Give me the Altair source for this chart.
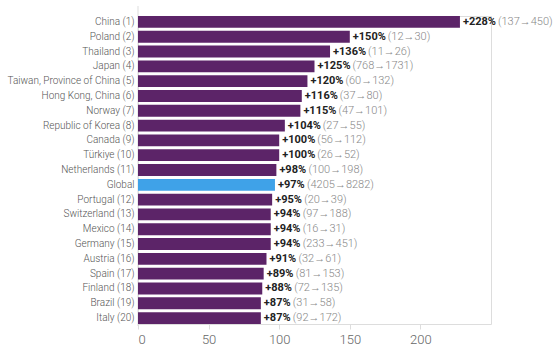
import altair as alt
import pandas as pd

names = ["China (1)", "Poland (2)", "Thailand (3)", "Japan (4)", "Taiwan, Province of China (5)",
         "Hong Kong, China (6)", "Norway (7)", "Republic of Korea (8)", "Canada (9)", "Türkiye (10)",
         "Netherlands (11)", "Global", "Portugal (12)", "Switzerland (13)", "Mexico (14)",
         "Germany (15)", "Austria (16)", "Spain (17)", "Finland (18)", "Brazil (19)", "Italy (20)"]
growth = [228, 150, 136, 125, 120, 116, 115, 104, 100, 100, 98, 97, 95, 94, 94, 94, 91, 89, 88, 87, 87]
start = [137, 12, 11, 768, 60, 37, 47, 27, 56, 26, 100, 4205, 20, 97, 16, 233, 32, 81, 72, 31, 92]
end = [450, 30, 26, 1731, 132, 80, 101, 55, 112, 52, 198, 8282, 39, 188, 31, 451, 61, 153, 135, 58, 172]
x_ticks = [0, 50, 100, 150, 200]

df = pd.DataFrame({"name": names, "growth": growth, "start": start, "end": end})
df["pct"] = ["+%d%%" % g for g in growth]
df["range"] = ["(%d\u2192%d)" % (s, e) for s, e in zip(start, end)]
df["is_global"] = [n == "Global" for n in names]

FONT = "Roboto"
W = 353
H = 308

yenc = alt.Y("name:N", sort=names,
             scale=alt.Scale(paddingInner=0.2, paddingOuter=0),
             axis=alt.Axis(title=None, domain=False, ticks=False, labelPadding=4,
                           labelFontSize=10, labelColor="#555555", labelFont=FONT,
                           labelFontWeight=300))
xscale = alt.Scale(domain=[0, 250], nice=False)

base = alt.Chart(df)

bars = base.mark_bar().encode(
    x=alt.X("growth:Q", scale=xscale,
            axis=alt.Axis(title=None, values=x_ticks, domain=False, grid=False,
                          tickColor="#dddddd", tickSize=5, labelFontSize=13,
                          labelColor="#666666", labelFont=FONT, labelFontWeight=300,
                          labelPadding=4)),
    y=yenc,
    color=alt.condition("datum.is_global", alt.value("#3FA2E8"), alt.value("#5C2468")),
)

pct = base.mark_text(align="left", baseline="middle", dx=3, fontSize=11,
                     fontWeight="bold", color="#222222", font=FONT).encode(
    x=alt.X("growth:Q", scale=xscale), y=yenc, text="pct:N")

rng3 = base.transform_filter("datum.growth >= 100").mark_text(
    align="left", baseline="middle", dx=38, fontSize=11, fontWeight=300,
    color="#888888", font=FONT).encode(
    x=alt.X("growth:Q", scale=xscale), y=yenc, text="range:N")
rng2 = base.transform_filter("datum.growth < 100").mark_text(
    align="left", baseline="middle", dx=32, fontSize=11, fontWeight=300,
    color="#888888", font=FONT).encode(
    x=alt.X("growth:Q", scale=xscale), y=yenc, text="range:N")

vline = alt.Chart(pd.DataFrame({"v": [0]})).mark_rule(color="#dddddd").encode(
    x=alt.X("v:Q", scale=xscale), y=alt.value(-10), y2=alt.value(H + 2))

chart = alt.layer(vline, bars, pct, rng3, rng2).properties(
    width=W, height=H,
    padding={"left": 7, "top": 5, "right": 0, "bottom": 5},
).configure_view(stroke=None).configure(background="white")

chart.save("out.html", embed_options={"renderer": "svg", "actions": False})
